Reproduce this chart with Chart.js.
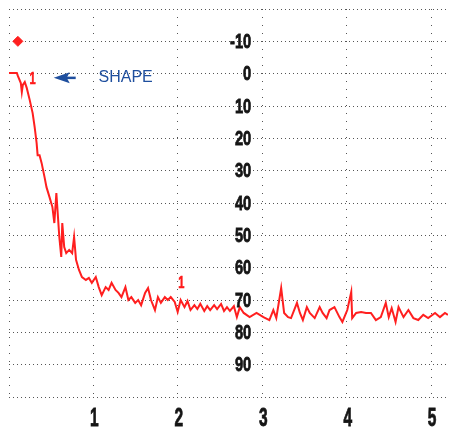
<!DOCTYPE html>
<html><head><meta charset="utf-8">
<script src="https://cdn.jsdelivr.net/npm/chart.js@4/dist/chart.umd.min.js"></script>
<style>html,body{margin:0;padding:0;background:#fff;}canvas{display:block;}</style>
</head><body>
<canvas id="c" width="454" height="433"></canvas>
<script>
const timeValues = [0,0.035,0.093,0.105,0.140,0.152,0.164,0.187,0.210,0.245,
0.280,0.304,0.327,0.339,0.362,0.386,0.421,0.444,0.479,0.514,
0.537,0.561,0.572,0.596,0.619,0.631,0.654,0.678,0.713,0.748,
0.771,0.794,0.829,0.864,0.911,0.946,0.981,1.028,1.063,1.098,
1.145,1.180,1.215,1.262,1.297,1.332,1.379,1.414,1.449,1.495,
1.530,1.565,1.612,1.647,1.682,1.729,1.764,1.799,1.846,1.881,
1.916,1.963,1.998,2.033,2.079,2.114,2.150,2.196,2.231,2.266,
2.313,2.348,2.383,2.430,2.465,2.512,2.547,2.582,2.617,2.664,
2.699,2.734,2.780,2.850,2.932,3.014,3.084,3.131,3.166,3.224,
3.259,3.306,3.341,3.411,3.446,3.481,3.528,3.563,3.621,3.680,
3.715,3.762,3.797,3.855,3.914,3.949,4.007,4.054,4.065,4.112,
4.171,4.229,4.287,4.346,4.404,4.463,4.498,4.533,4.579,4.614,
4.673,4.731,4.790,4.848,4.907,4.965,5.047,5.105,5.164,5.199];
const shapeValues = [-0.2,-0.2,-0.2,0.7,2.9,5.7,3.5,2.6,4.4,8.1,
12.2,16.5,21.4,25.2,25.2,27.6,32.0,35.1,38.1,41.2,
46.2,36.9,41.2,50.5,56.7,46.2,53.6,55.5,54.5,55.5,
50.5,57.6,60.7,62.9,63.8,63.2,64.7,62.9,66.0,68.5,
66.0,66.9,64.7,66.9,67.8,69.1,66.0,70.0,69.1,70.9,
70.0,71.6,67.8,66.3,70.0,73.1,69.1,70.9,69.1,70.0,
69.1,70.6,73.7,70.0,72.2,70.3,73.1,71.6,72.8,71.2,
73.4,71.9,73.1,71.6,72.8,71.2,73.4,72.2,73.4,71.9,
75.3,72.2,74.0,75.3,74.0,75.3,76.2,73.1,75.6,66.3,
74.0,75.3,75.6,70.9,74.0,76.2,72.2,74.0,75.6,72.2,
74.0,75.6,73.1,72.2,75.3,76.8,73.1,67.5,75.6,74.0,
73.7,74.0,74.0,76.2,75.3,70.9,75.3,72.5,76.8,72.2,
75.3,73.1,75.6,76.2,74.6,75.6,74.0,75.3,74.0,74.6];
const diamondX = [0.105];
const diamondY = [-10];
const markerLabelX = [0.28, 2.04];
const markerLabelY = [1.8, 64.7];
const markerLabelText = ['1', '1'];
const yTickLabels = [-10,0,10,20,30,40,50,60,70,80,90];
const yLabelAtX = 3;
const xTickLabels = [1,2,3,4,5];
const annotationText = 'SHAPE';
const arrowTip = [0.53, 1.3];
const arrowTail = [0.79, 1.3];
const annotationPos = [1.06, 1.2];

const lineData = timeValues.map((x,i)=>({x:x, y:shapeValues[i]}));
const diamondData = diamondX.map((x,i)=>({x:x, y:diamondY[i]}));

function narrowText(ctx, text, x, y, sx, align, stroke){
  ctx.save();
  ctx.translate(x, y);
  ctx.scale(sx, 1);
  ctx.textAlign = align;
  ctx.fillText(text, 0, 0);
  if (stroke) { ctx.lineWidth = stroke; ctx.strokeStyle = ctx.fillStyle; ctx.strokeText(text, 0, 0); }
  ctx.restore();
}

const labelPlugin = {
  id:'labels',
  afterDatasetsDraw(chart){
    const ctx = chart.ctx, xs = chart.scales.x, ys = chart.scales.y;
    ctx.save();
    ctx.textBaseline = 'middle';
    ctx.fillStyle = '#151515';
    ctx.font = 'bold 21px "Liberation Sans", Arial, sans-serif';
    const lx = xs.getPixelForValue(yLabelAtX) - 11;
    yTickLabels.forEach(v=>{
      narrowText(ctx, String(v), lx, ys.getPixelForValue(v) + 1, 0.7, 'right', 0.8);
    });
    ctx.font = 'bold 25px "Liberation Sans", Arial, sans-serif';
    xTickLabels.forEach(v=>{
      narrowText(ctx, String(v), xs.getPixelForValue(v) + 1, ys.bottom + 22, 0.62, 'center', 0.8);
    });
    ctx.fillStyle = '#ff1a1a';
    ctx.font = 'bold 17px "Liberation Sans", Arial, sans-serif';
    markerLabelText.forEach((t,i)=>{
      narrowText(ctx, t, xs.getPixelForValue(markerLabelX[i]), ys.getPixelForValue(markerLabelY[i]), 0.65, 'center', 0.6);
    });
    const tx = xs.getPixelForValue(arrowTip[0]), ty = ys.getPixelForValue(arrowTip[1]);
    const ex = xs.getPixelForValue(arrowTail[0]);
    ctx.strokeStyle = '#1f4f9e'; ctx.fillStyle = '#1f4f9e';
    ctx.lineWidth = 2.5;
    ctx.beginPath(); ctx.moveTo(tx+10, ty); ctx.lineTo(ex, ty); ctx.stroke();
    ctx.beginPath(); ctx.moveTo(tx, ty); ctx.lineTo(tx+16, ty-5.5); ctx.lineTo(tx+13, ty); ctx.lineTo(tx+16, ty+5.5); ctx.closePath(); ctx.fill();
    ctx.font = '16px "Liberation Sans", Arial, sans-serif';
    ctx.textAlign = 'left';
    ctx.fillText(annotationText, xs.getPixelForValue(annotationPos[0]), ys.getPixelForValue(annotationPos[1]));
    ctx.restore();
  }
};

function noPad(s){ s.paddingTop = 0; s.paddingBottom = 0; s.paddingLeft = 0; s.paddingRight = 0; }

new Chart(document.getElementById('c'), {
  type:'scatter',
  data:{datasets:[
    {data:lineData, showLine:true, borderColor:'#ff1f1f', borderWidth:2, pointRadius:0, tension:0},
    {data:diamondData, showLine:false, pointStyle:'rectRot', pointRadius:5, backgroundColor:'#ff1f1f', borderColor:'#ff1f1f'}
  ]},
  options:{
    responsive:false, animation:false,
    layout:{padding:{left:9, top:9, right:0, bottom:0}},
    plugins:{legend:{display:false}, tooltip:{enabled:false}},
    scales:{
      x:{type:'linear', min:0, max:5.2,
        border:{display:false, dash:[1,7]},
        grid:{color:'#555', lineWidth:1, drawTicks:false},
        ticks:{display:false, stepSize:1, includeBounds:false},
        afterFit:(s)=>{ s.height = 36; noPad(s); }
      },
      y:{type:'linear', min:-20, max:100, reverse:true,
        border:{display:false, dash:[1,3]},
        grid:{color:'#555', lineWidth:1, drawTicks:false},
        ticks:{display:false, stepSize:10},
        afterFit:(s)=>{ s.width = 0; noPad(s); }
      }
    }
  },
  plugins:[labelPlugin]
});
</script>
</body></html>
